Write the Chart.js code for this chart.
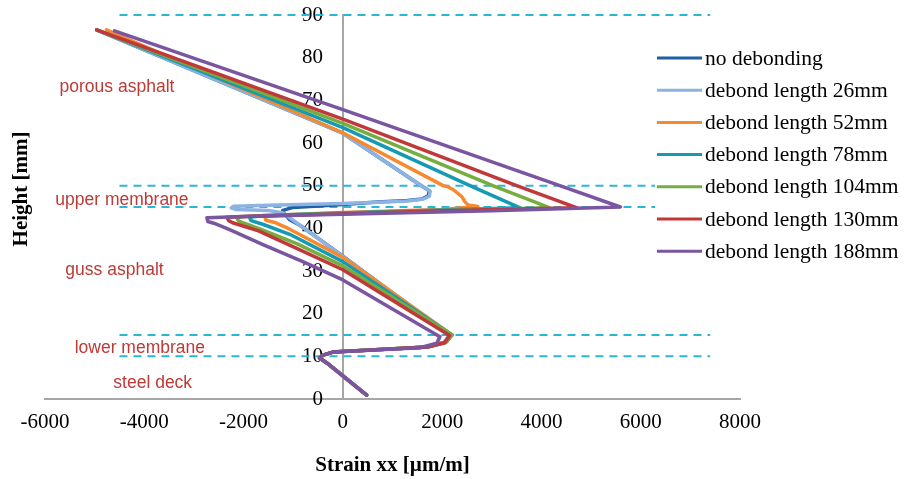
<!DOCTYPE html>
<html>
<head>
<meta charset="utf-8">
<script src="https://cdn.jsdelivr.net/npm/chart.js@4.4.0/dist/chart.umd.min.js"></script>
<style>
  html, body { margin: 0; padding: 0; background: #fff; }
  #wrap { width: 906px; height: 479px; }
</style>
</head>
<body>
<div id="wrap"><canvas id="strainChart" width="906" height="479"></canvas></div>
<script>
// series names
const seriesNames = ['no debonding', 'debond length 26mm', 'debond length 52mm', 'debond length 78mm',
  'debond length 104mm', 'debond length 130mm', 'debond length 188mm'];

// strain xx [µm/m] and height [mm] (top of the section to the bottom)
const strainNoDebond = [-4960, 0, 1550, 1740, 1720, 1600, 1300, 700, 0, -1000, -1210, -1180, -1070, -850, 0, 2150, 2050, 1700, -200, -400, -470, -330, 480];
const heightNoDebond = [86.5, 62.3, 50.2, 48.8, 47.6, 46.9, 46.5, 46.2, 45.6, 44.9, 44.2, 43.5, 42.0, 40.6, 33.5, 15, 13.3, 12.2, 11, 10.3, 9.6, 8.5, 0.9];

const strain26 = [-4960, 0, 1550, 1760, 1740, 1600, 1300, 700, 0, -1500, -2200, -2250, -2150, -1500, -1200, -1050, -850, 0, 2150, 2050, 1700, -200, -400, -470, -330, 480];
const height26 = [86.5, 62.3, 50.2, 48.7, 47.5, 46.8, 46.4, 46.1, 45.8, 45.4, 45.2, 44.8, 44.4, 44.2, 43.6, 42.3, 40.6, 33.4, 15, 13.3, 12.2, 11, 10.3, 9.6, 8.5, 0.9];

const strain52 = [-4760, 0, 2020, 2100, 2220, 2400, 2460, 2520, 2720, 2000, 0, -1300, -1570, -1550, -1350, -1070, 0, 2200, 2080, 1700, -200, -400, -470, -330, 480];
const height52 = [86.5, 62.4, 50, 49.8, 49.1, 47.4, 46.2, 45.5, 45.1, 44.4, 43.7, 43.1, 42.7, 41.9, 41.3, 39.8, 33.2, 15, 13.3, 12.2, 11, 10.3, 9.6, 8.5, 0.9];

const strain78 = [-4960, 0, 2560, 3570, 2000, 0, -1600, -1880, -1850, -1600, -1070, 0, 2200, 2080, 1700, -200, -400, -470, -330, 480];
const height78 = [86.5, 63.6, 50, 44.8, 44.3, 43.6, 43.0, 42.6, 41.8, 40.9, 38.6, 32.2, 15, 13.3, 12.2, 11, 10.3, 9.6, 8.5, 0.9];

const strain104 = [-4960, 0, 3020, 4170, 2000, 0, -1800, -2140, -2100, -1700, -930, 0, 2200, 2080, 1700, -200, -400, -470, -330, 480];
const height104 = [86.5, 64.6, 50, 44.8, 44.2, 43.5, 42.9, 42.6, 41.7, 40.0, 36.4, 31.2, 15, 13.3, 12.2, 11, 10.3, 9.6, 8.5, 0.9];

const strain130 = [-4960, 0, 3500, 4720, 2000, 0, -2000, -2340, -2300, -2220, -1700, -930, 0, 2150, 2050, 1700, -200, -400, -470, -330, 480];
const height130 = [86.5, 65.6, 50, 44.8, 44.1, 43.4, 42.8, 42.6, 41.8, 41.3, 39.4, 35.3, 30.3, 14.9, 13.2, 12.2, 11, 10.3, 9.6, 8.5, 0.9];

const strain188 = [-4600, 0, 4370, 5590, 3000, 0, -2000, -2740, -2720, -2600, -2280, -1610, -806, 0, 1955, 1895, 1550, -200, -400, -470, -330, 480];
const height188 = [86.3, 67.8, 50, 45, 44.1, 43.3, 42.8, 42.5, 41.6, 41.2, 39.7, 36.2, 32.2, 27.9, 14.6, 13.1, 12, 11, 10.3, 9.6, 8.5, 0.9];

// layer boundaries (dashed lines)
const boundaryHeights = [90, 50, 45, 15, 10];
const boundaryStrainRange = [-4500, 7400];

// layer names
const layerNames = ['porous asphalt', 'upper membrane', 'guss asphalt', 'lower membrane', 'steel deck'];

// axis ticks
const xTicks = [-6000, -4000, -2000, 0, 2000, 4000, 6000, 8000];
const yTicks = [0, 10, 20, 30, 40, 50, 60, 70, 80, 90];

const strainSeries = [strainNoDebond, strain26, strain52, strain78, strain104, strain130, strain188];
const heightSeries = [heightNoDebond, height26, height52, height78, height104, height130, height188];
const seriesColors = ['#1F5FA8', '#8DB3E2', '#F7892E', '#169AB3', '#76AD3F', '#C2383A', '#7A55A0'];

const serif = '"Liberation Serif", "Times New Roman", serif';

const datasets = [];
boundaryHeights.forEach(h => {
    datasets.push({
        label: 'boundary ' + h,
        data: boundaryStrainRange.map(s => ({ x: s, y: h })),
        borderColor: '#2AB7D7',
        borderWidth: 2,
        borderDash: [8, 6],
        pointRadius: 0,
        showLine: true,
        clip: false,
        order: 20
    });
});
seriesNames.forEach((name, i) => {
    datasets.push({
        label: name,
        data: strainSeries[i].map((s, j) => ({ x: s, y: heightSeries[i][j] })),
        borderColor: seriesColors[i],
        borderWidth: 3.5,
        borderJoinStyle: 'round',
        borderCapStyle: 'round',
        pointRadius: 0,
        showLine: true,
        tension: 0,
        clip: false,
        order: seriesNames.length - 1 - i
    });
});

// layer labels, y title and the legend box
const overlayPlugin = {
    id: 'overlay',
    afterDraw(chart) {
        const ctx = chart.ctx;
        const xs = chart.scales.x, ys = chart.scales.y;
        const anchors = [[-4550, 73], [-4450, 46.7], [-4600, 30.3], [-4090, 12], [-3830, 3.8]];
        ctx.save();
        ctx.font = '17.5px "Liberation Sans", Arial, sans-serif';
        ctx.fillStyle = '#BE3A36';
        ctx.textAlign = 'center';
        ctx.textBaseline = 'middle';
        layerNames.forEach((t, i) => {
            ctx.fillText(t, xs.getPixelForValue(anchors[i][0]), ys.getPixelForValue(anchors[i][1]));
        });

        // y title
        ctx.save();
        ctx.translate(22, 189);
        ctx.rotate(-Math.PI / 2);
        ctx.font = 'bold 21px ' + serif;
        ctx.fillStyle = '#000';
        ctx.fillText('Height [mm]', 0, 0);
        ctx.restore();

        // legend
        ctx.fillStyle = '#fff';
        ctx.fillRect(655, 40, 251, 230);
        ctx.font = '21.5px ' + serif;
        ctx.textAlign = 'left';
        seriesNames.forEach((name, i) => {
            const y = 58 + i * 32.2;
            ctx.strokeStyle = seriesColors[i];
            ctx.lineWidth = 3;
            ctx.beginPath();
            ctx.moveTo(657, y);
            ctx.lineTo(702, y);
            ctx.stroke();
            ctx.fillStyle = '#000';
            ctx.fillText(name, 705, y + 1);
        });
        ctx.restore();
    }
};

const noEdgePadding = s => { s.paddingTop = 0; s.paddingBottom = 0; s.paddingLeft = 0; s.paddingRight = 0; };

new Chart(document.getElementById('strainChart'), {
    type: 'scatter',
    data: { datasets },
    options: {
        responsive: false,
        animation: false,
        layout: { padding: { left: 45, right: 166, top: 15, bottom: 0 } },
        plugins: {
            legend: { display: false },
            tooltip: { enabled: false }
        },
        scales: {
            x: {
                type: 'linear',
                position: 'bottom',
                min: -6000,
                max: 8000,
                afterBuildTicks: s => { s.ticks = xTicks.map(v => ({ value: v })); },
                afterFit: s => { s.height = 80; noEdgePadding(s); },
                grid: { display: false, drawTicks: false },
                border: { color: '#A6A6A6', width: 2 },
                ticks: { color: '#000', padding: 11, maxRotation: 0, callback: v => String(v), font: { family: serif, size: 21 } },
                title: {
                    display: true,
                    text: 'Strain xx [µm/m]',
                    color: '#000',
                    padding: { top: 0, bottom: 1 },
                    font: { family: serif, size: 21, weight: 'bold' }
                }
            },
            // the axis line, crossing at strain 0
            y: {
                type: 'linear',
                position: { x: 0 },
                min: 0,
                max: 90,
                afterFit: noEdgePadding,
                grid: { display: false, drawTicks: false },
                border: { color: '#A6A6A6', width: 2 },
                ticks: { display: false }
            },
            // the height labels, just left of the axis line
            yLabels: {
                type: 'linear',
                axis: 'y',
                position: { x: -400 },
                min: 0,
                max: 90,
                afterBuildTicks: s => { s.ticks = yTicks.map(v => ({ value: v })); },
                afterFit: noEdgePadding,
                grid: { display: false, drawTicks: false },
                border: { display: false },
                ticks: { color: '#000', padding: 0, callback: v => String(v), font: { family: serif, size: 21 } }
            }
        }
    },
    plugins: [overlayPlugin]
});
</script>
</body>
</html>
